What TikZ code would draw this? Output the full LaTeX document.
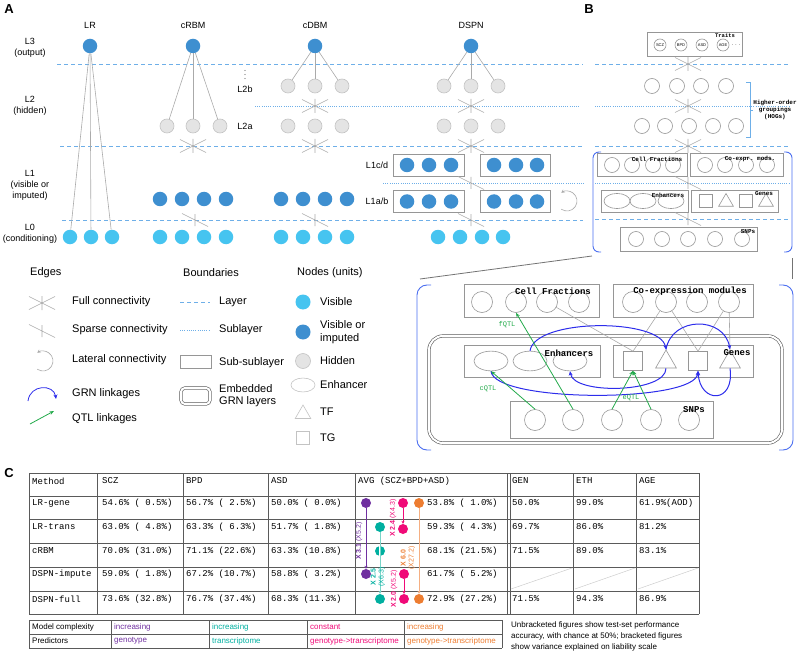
\documentclass[tikz,border=0pt]{standalone}
\usepackage{fontspec}
\setmainfont{Liberation Sans}
\setsansfont{Liberation Sans}
\setmonofont{Liberation Mono}
\usetikzlibrary{arrows.meta,positioning,shapes.geometric,calc}

\definecolor{visC}{RGB}{70,196,240}
\definecolor{impC}{RGB}{62,143,208}
\definecolor{hidF}{RGB}{228,228,228}
\definecolor{hidD}{RGB}{195,195,195}
\definecolor{edgeG}{RGB}{170,170,170}
\definecolor{boxG}{RGB}{150,150,150}
\definecolor{layerB}{RGB}{110,175,232}
\definecolor{grnB}{RGB}{45,45,235}
\definecolor{brkB}{RGB}{75,110,240}
\definecolor{qtlG}{RGB}{35,170,75}
\definecolor{tabG}{RGB}{90,90,90}
\definecolor{purC}{RGB}{112,48,160}
\definecolor{tealC}{RGB}{0,175,160}
\definecolor{tealL}{RGB}{120,212,200}
\definecolor{magC}{RGB}{240,10,120}
\definecolor{oraC}{RGB}{237,125,49}
\definecolor{oraL}{RGB}{245,175,130}

\tikzset{
  fullX/.pic={\draw[edge] (-13,-6.5) -- (13,6.5) (-13,6.5) -- (13,-6.5) (0,-7) -- (0,7);},
  sparseX/.pic={\draw[edge] (-13,-6.5) -- (13,6.5) (0,-6) -- (0,6);},
  lateral/.pic={\draw[edge, -{Stealth[length=3.5pt,width=3.5pt]}] (125:10) arc[start angle=125, end angle=-125, radius=10];}
}

\begin{document}
\begin{tikzpicture}[x=1pt, y=-1pt,
    vis/.style={circle, fill=visC, minimum size=14.5pt, inner sep=0pt},
    vimp/.style={circle, fill=impC, minimum size=14.5pt, inner sep=0pt},
    hid/.style={circle, draw=hidD, fill=hidF, line width=0.6pt, minimum size=14pt, inner sep=0pt},
    edge/.style={draw=edgeG, line width=0.6pt},
    layerLine/.style={draw=layerB, line width=0.7pt, dash pattern=on 4pt off 3pt},
    subLine/.style={draw=layerB, line width=0.6pt, dash pattern=on 1pt off 1.2pt},
    subBox/.style={draw=boxG, line width=0.7pt, rectangle, inner sep=0pt},
    bCirc/.style={circle, draw=boxG, line width=0.6pt, inner sep=0pt, minimum size=#1},
    bCirc/.default=15pt,
    bEll/.style={ellipse, draw=boxG, line width=0.6pt, inner sep=0pt, minimum width=#1, minimum height=0.58*#1},
    bEll/.default=26pt,
    bSq/.style={rectangle, draw=boxG, line width=0.6pt, inner sep=0pt, minimum size=#1},
    bSq/.default=13pt,
    bTri/.style={regular polygon, regular polygon sides=3, draw=boxG, line width=0.6pt, inner sep=0pt, minimum size=#1},
    bTri/.default=17pt,
    embBox/.style={draw=tabG, line width=0.6pt, double=white, double distance=2pt, inner sep=0pt},
    aLbl/.style={font=\fontsize{9}{11}\selectfont, align=center, inner sep=0pt},
    legLbl/.style={font=\fontsize{11}{12.5}\selectfont, anchor=west, align=left, inner sep=0pt},
    panelLbl/.style={font=\fontsize{13}{13}\selectfont\bfseries, inner sep=0pt},
    bTag/.style={font=\ttfamily\bfseries\fontsize{6}{7}\selectfont, inner sep=0pt, align=center},
    bigTag/.style={font=\ttfamily\bfseries\fontsize{9}{9}\selectfont, inner sep=0pt},
    qtlTag/.style={font=\ttfamily\fontsize{7}{7}\selectfont, text=qtlG, inner sep=0pt},
    tabTxt/.style={font=\ttfamily\fontsize{9}{9}\selectfont, anchor=west, inner sep=0pt},
    tabLine/.style={draw=tabG, line width=0.8pt},
    keyTxt/.style={font=\fontsize{8}{11}\selectfont, anchor=west, inner sep=0pt, align=left},
    dot/.style={circle, fill=#1, minimum size=10pt, inner sep=0pt},
    tinyDot/.style={circle, fill=black!55, minimum size=1.4pt, inner sep=0pt},
    dbLbl/.style={font=\fontsize{7}{8}\selectfont, rotate=90, inner sep=0pt, align=center},
    grn/.style={draw=grnB, line width=1pt, -{Stealth[length=4.5pt,width=4pt]}},
    qtl/.style={draw=qtlG, line width=0.8pt, -{Stealth[length=4.5pt,width=3.5pt]}},
    brk/.style={draw=brkB, line width=0.9pt, rounded corners=6pt},
    zoomLine/.style={draw=black!55, line width=0.8pt}
  ]
  \useasboundingbox (0,0) rectangle (800,655);

  % ---------- panel letters ----------
  \node[panelLbl] (pA) at (9,9) {A};
  \node[panelLbl] (pB) at (589,9) {B};
  \node[panelLbl] (pC) at (9,473) {C};

  % ---------- A: layer boundaries ----------
  \draw[layerLine] (57,64) -- (583,64);
  \draw[layerLine] (60,146) -- (583,146);
  \draw[layerLine] (62,220) -- (583,220);
  \draw[subLine] (255,106) -- (580,106);
  \draw[subLine] (383,183) -- (585,183);

  % row labels
  \node[aLbl] (rowL3) at (30,47.5) {L3\\(output)};
  \node[aLbl] (rowL2) at (30,105.5) {L2\\(hidden)};
  \node[aLbl] (rowL1) at (30,185.5) {L1\\(visible or\\imputed)};
  \node[aLbl] (rowL0) at (30,233.5) {L0\\(conditioning)};

  % column titles
  \node[aLbl] (tLR) at (90,25) {LR};
  \node[aLbl] (tRBM) at (193,25) {cRBM};
  \node[aLbl] (tDBM) at (315,25) {cDBM};
  \node[aLbl] (tDSPN) at (471,25) {DSPN};

  \foreach \y [count=\i] in {70.5,74.5,78.5} \node[tinyDot] (l2dot\i) at (245,\y) {};
  \node[aLbl] (l2b) at (245,89) {L2b};
  \node[aLbl] (l2a) at (245,126) {L2a};
  \node[aLbl] (l1cd) at (377,165) {L1c/d};
  \node[aLbl] (l1ab) at (377,201) {L1a/b};

  % ---------- LR ----------
  \node[vimp] (lrOut) at (90,46) {};
  \foreach \x [count=\i] in {70,91,112} {
    \node[vis] (lrIn\i) at (\x,237) {};
    \draw[edge] (lrOut) -- (lrIn\i);
  }

  % ---------- cRBM ----------
  \node[vimp] (rbmOut) at (193,46) {};
  \foreach \x [count=\i] in {167,193,220} {
    \node[hid] (rbmH\i) at (\x,126) {};
    \draw[edge] (rbmOut) -- (rbmH\i);
  }
  \pic at (193,146) {fullX};
  \foreach \x [count=\i] in {160,182,204,226} {
    \node[vimp] (rbmV\i) at (\x,199) {};
    \node[vis] (rbmC\i) at (\x,237) {};
  }
  \pic at (195,220) {sparseX};

  % ---------- cDBM ----------
  \node[vimp] (dbmOut) at (315,46) {};
  \foreach \x [count=\i] in {288,315,342} {
    \node[hid] (dbmB\i) at (\x,86) {};
    \node[hid] (dbmA\i) at (\x,126) {};
    \draw[edge] (dbmOut) -- (dbmB\i);
  }
  \pic at (315,106) {fullX};
  \pic at (315,146) {fullX};
  \foreach \x [count=\i] in {281,303,325,347} {
    \node[vimp] (dbmV\i) at (\x,199) {};
    \node[vis] (dbmC\i) at (\x,237) {};
  }
  \pic at (315,220) {sparseX};

  % ---------- DSPN ----------
  \node[vimp] (dsOut) at (471,46) {};
  \foreach \x [count=\i] in {444,471,498} {
    \node[hid] (dsB\i) at (\x,86) {};
    \node[hid] (dsA\i) at (\x,126) {};
    \draw[edge] (dsOut) -- (dsB\i);
  }
  \pic at (471,106) {fullX};
  \pic at (471,146) {fullX};
  \node[subBox, minimum width=71pt, minimum height=22pt] (dsCD1) at (428.5,165) {};
  \node[subBox, minimum width=70pt, minimum height=22pt] (dsCD2) at (515,165) {};
  \node[subBox, minimum width=71pt, minimum height=22pt] (dsAB1) at (428.5,201.5) {};
  \node[subBox, minimum width=70pt, minimum height=22pt] (dsAB2) at (515,201.5) {};
  \foreach \x [count=\i] in {407,429,451,494,516,537} {
    \node[vimp] (dsD\i) at (\x,165) {};
    \node[vimp] (dsV\i) at (\x,201.5) {};
  }
  \pic at (471,183) {sparseX};
  \pic at (471,220) {sparseX};
  \pic at (567,201) {lateral};
  \foreach \x [count=\i] in {438,460,482,503} {
    \node[vis] (dsC\i) at (\x,237) {};
  }

  % ---------- B: overview ----------
  \foreach \y in {64,146,219} \draw[layerLine] (595,\y) -- (790,\y);
  \foreach \y in {106,183} \draw[subLine] (595,\y) -- (790,\y);

  \node[subBox, minimum width=95pt, minimum height=24pt] (trBox) at (694.5,44) {};
  \foreach \t/\x in {SCZ/660,BPD/681,ASD/702,AGE/723} {
    \node[bCirc=12pt, font=\fontsize{4}{4}\selectfont] (tr\t) at (\x,45) {\t};
  }
  \node[inner sep=0pt, font=\fontsize{6}{6}\selectfont] (trMore) at (736,45) {$\cdots$};
  \node[bTag, font=\ttfamily\bfseries\fontsize{5.5}{6}\selectfont] (trTag) at (725,36) {Traits};
  \pic at (688,64) {fullX};
  \foreach \x [count=\i] in {652,677,701,726} \node[bCirc] (hogA\i) at (\x,86) {};
  \pic at (688,106) {fullX};
  \foreach \x [count=\i] in {642,665,689,713,736} \node[bCirc] (hogB\i) at (\x,126) {};
  \pic at (688,146) {fullX};
  \draw[draw=layerB, line width=0.7pt] (746,82) -- (750,82) -- (750,137) -- (746,137);
  \draw[draw=layerB, line width=0.7pt] (750,110) -- (753,110);
  \node[bTag] (hogTag) at (775,110) {Higher-order\\groupings\\(HOGs)};

  \node[subBox, minimum width=90pt, minimum height=23pt] (sCfBox) at (642,164.5) {};
  \node[subBox, minimum width=93pt, minimum height=23pt] (sCeBox) at (736.5,164.5) {};
  \foreach \x [count=\i] in {612,632,653,673} \node[bCirc] (sCf\i) at (\x,165) {};
  \foreach \x [count=\i] in {705,725,746,767} \node[bCirc] (sCe\i) at (\x,165) {};
  \node[bTag] (sCfTag) at (657,159) {Cell Fractions};
  \node[bTag] (sCeTag) at (750,159) {Co-expr. mods.};
  \pic at (688,183) {sparseX};

  \node[subBox, minimum width=87pt, minimum height=22pt] (sEnBox) at (644.5,201) {};
  \node[subBox, minimum width=87pt, minimum height=22pt] (sGnBox) at (734.5,201) {};
  \foreach \x [count=\i] in {617,643,671} \node[bEll] (sEn\i) at (\x,201) {};
  \node[bSq] (sGs1) at (706,201) {};
  \node[bTri] (sGt1) at (726,202) {};
  \node[bSq] (sGs2) at (746,201) {};
  \node[bTri] (sGt2) at (766,202) {};
  \node[bTag] (sEnTag) at (668,195) {Enhancers};
  \node[bTag] (sGnTag) at (764,194) {Genes};
  \pic at (688,219) {sparseX};

  \node[subBox, minimum width=137pt, minimum height=24pt] (sSnBox) at (688.5,239) {};
  \foreach \x [count=\i] in {636,662,688,715,742} \node[bCirc] (sSn\i) at (\x,239) {};
  \node[bTag] (sSnTag) at (748,232) {SNPs};

  \draw[brk] (601,152) -| (593,252) -- (601,252);
  \draw[brk] (784,152) -| (792,252) -- (784,252);

  % zoom connectors
  \coordinate (zoomSmallL) at (592,256);
  \coordinate (zoomBigL) at (420,279);
  \coordinate (zoomSmallR) at (792,258);
  \coordinate (zoomBigR) at (792,279);
  \draw[zoomLine] (zoomSmallL) -- (zoomBigL);
  \draw[zoomLine] (zoomSmallR) -- (zoomBigR);

  % ---------- B: expanded ----------
  \draw[brk, rounded corners=10pt] (431,285) -| (417,450) -- (431,450);
  \draw[brk, rounded corners=10pt] (779,285) -| (793,450) -- (779,450);

  \node[embBox, rounded corners=14pt, minimum width=353pt, minimum height=107pt] (grnLayer) at (605.5,389.5) {};
  \node[subBox, minimum width=135pt, minimum height=33pt] (cfBox) at (531.5,300.5) {};
  \node[subBox, minimum width=140pt, minimum height=33pt] (ceBox) at (683,300.5) {};
  \node[subBox, minimum width=136pt, minimum height=32pt] (enBox) at (532,361) {};
  \node[subBox, minimum width=140pt, minimum height=32pt] (gnBox) at (683,361) {};
  \node[subBox, minimum width=203pt, minimum height=37pt] (snBox) at (611.5,419.5) {};

  \foreach \x [count=\i] in {482,516,547,579} \node[bCirc=21pt] (cf\i) at (\x,302) {};
  \foreach \x [count=\i] in {633,666,697,729} \node[bCirc=21pt] (ce\i) at (\x,302) {};
  \foreach \x [count=\i] in {491,530,570} \node[bEll=34pt] (en\i) at (\x,361) {};
  \node[bSq=19pt] (gs1) at (633,361) {};
  \node[bTri=24pt] (gt1) at (666,362) {};
  \node[bSq=19pt] (gs2) at (698,361) {};
  \node[bTri=24pt] (gt2) at (730,362) {};
  \foreach \x [count=\i] in {535,573,612,651,689} \node[bCirc=21pt] (sn\i) at (\x,420) {};

  \node[bigTag] (cfTag) at (553,291) {Cell Fractions};
  \node[bigTag] (ceTag) at (690,291) {Co-expression modules};
  \node[bigTag] (enTag) at (569,353) {Enhancers};
  \node[bigTag] (gnTag) at (737,353) {Genes};
  \node[bigTag] (snTag) at (694,410) {SNPs};

  % module -> gene links
  \draw[edge] (cf3) -- (gs1.north);
  \draw[edge] (ce2) -- (gs1.north);
  \draw[edge] (ce2) -- (gs2.north);
  \draw[edge] (ce4) -- (gs2.north);
  \draw[edge] (ce4) -- (gt2.north);

  % GRN linkages
  \draw[grn] (en2.north) .. controls (535,318) and (660,318) .. (gt1.north);
  \draw[grn] (gt1.north) .. controls (672,316) and (724,316) .. (gt2.north);
  \draw[grn] (gt1.south) .. controls (666,393) and (574,395) .. (en3.south);
  \draw[grn] (en1.south) .. controls (494,403) and (695,403) .. (gs2.south);
  \draw[grn] (gt2.south) .. controls (735,404) and (700,404) .. (gs2.south);

  % QTL linkages
  \draw[qtl] (sn2.north) -- (cf2.south);
  \draw[qtl] (sn1.north) -- (en1.south);
  \draw[qtl] (sn3.north) -- (gs1.south);
  \draw[qtl] (sn4.north) -- (gs1.south);
  \node[qtlTag] (fqtl) at (507,325) {fQTL};
  \node[qtlTag] (cqtl) at (488,389) {cQTL};
  \node[qtlTag] (eqtl) at (631,398) {eQTL};

  % ---------- A: legend ----------
  \node[legLbl] (legEdges) at (30,273) {Edges};
  \pic at (42,303) {fullX};
  \node[legLbl] (legFull) at (72,302) {Full connectivity};
  \pic at (42,331) {sparseX};
  \node[legLbl] (legSparse) at (72,330) {Sparse connectivity};
  \pic at (43,361) {lateral};
  \node[legLbl] (legLat) at (72,360) {Lateral connectivity};
  \coordinate (grnKeyA) at (28,401);
  \coordinate (grnKeyB) at (56,399);
  \draw[grn, line width=0.8pt] (grnKeyA) .. controls (30,384) and (54,384) .. (grnKeyB);
  \node[legLbl] (legGrn) at (72,394) {GRN linkages};
  \coordinate (qtlKeyA) at (30,424);
  \coordinate (qtlKeyB) at (54,411);
  \draw[qtl] (qtlKeyA) -- (qtlKeyB);
  \node[legLbl] (legQtl) at (72,419) {QTL linkages};

  \node[legLbl] (legBound) at (183,273) {Boundaries};
  \coordinate (layKeyA) at (180,302);
  \coordinate (layKeyB) at (210,302);
  \draw[layerLine] (layKeyA) -- (layKeyB);
  \node[legLbl] (legLayer) at (219,302) {Layer};
  \coordinate (subKeyA) at (180,330);
  \coordinate (subKeyB) at (210,330);
  \draw[subLine] (subKeyA) -- (subKeyB);
  \node[legLbl] (legSub) at (219,330) {Sublayer};
  \node[subBox, minimum width=31pt, minimum height=13pt] (subsubKey) at (195.5,361.5) {};
  \node[legLbl] (legSubSub) at (219,363) {Sub-sublayer};
  \node[embBox, rounded corners=4pt, minimum width=29pt, minimum height=16pt] (embKey) at (195.5,396) {};
  \node[legLbl] (legEmb) at (219,395.5) {Embedded\\GRN layers};

  \node[legLbl] (legNodes) at (297,273) {Nodes (units)};
  \node[vis, minimum size=15pt] (visKey) at (303,302) {};
  \node[legLbl] (legVis) at (320,302) {Visible};
  \node[vimp, minimum size=15pt] (impKey) at (303,332) {};
  \node[legLbl] (legImp) at (320,332) {Visible or\\imputed};
  \node[hid, minimum size=15pt] (hidKey) at (303,361) {};
  \node[legLbl] (legHid) at (320,361) {Hidden};
  \node[bEll=24pt, draw=hidD] (enhKey) at (303,385) {};
  \node[legLbl] (legEnh) at (320,385) {Enhancer};
  \node[bTri=18pt, draw=hidD] (tfKey) at (303,414) {};
  \node[legLbl] (legTF) at (320,412) {TF};
  \node[bSq=13pt, draw=hidD] (tgKey) at (303,438) {};
  \node[legLbl] (legTG) at (320,438) {TG};

  % ---------- C: table ----------
  \foreach \y in {473,496,519,543,567,591,614} \draw[tabLine] (29,\y) -- (699,\y);
  \foreach \x in {29,97,183,268,355,573,636,699} \draw[tabLine] (\x,473) -- (\x,614);
  \draw[tabLine, line width=0.7pt] (507.5,473) -- (507.5,614);
  \draw[tabLine, line width=0.7pt] (510.5,473) -- (510.5,614);

  \foreach \txt/\x [count=\c] in {Method/32, SCZ/102, BPD/186, ASD/271, AVG (SCZ+BPD+ASD)/358, GEN/512, ETH/576, AGE/639}
    \node[tabTxt] (hd\c) at (\x,481) {\txt};

  \foreach \mth/\scz/\bpd/\asd/\avg/\gen/\eth/\age/\y [count=\r] in {
      LR-gene/54.6\% ( 0.5\%)/56.7\% ( 2.5\%)/50.0\% ( 0.0\%)/53.8\% ( 1.0\%)/50.0\%/99.0\%/61.9\%(AOD)/503,
      LR-trans/63.0\% ( 4.8\%)/63.3\% ( 6.3\%)/51.7\% ( 1.8\%)/59.3\% ( 4.3\%)/69.7\%/86.0\%/81.2\%/527,
      cRBM/70.0\% (31.0\%)/71.1\% (22.6\%)/63.3\% (10.8\%)/68.1\% (21.5\%)/71.5\%/89.0\%/83.1\%/551,
      DSPN-impute/59.0\% ( 1.8\%)/67.2\% (10.7\%)/58.8\% ( 3.2\%)/61.7\% ( 5.2\%)/{}/{}/{}/574,
      DSPN-full/73.6\% (32.8\%)/76.7\% (37.4\%)/68.3\% (11.3\%)/72.9\% (27.2\%)/71.5\%/94.3\%/86.9\%/599} {
    \node[tabTxt] (mth\r) at (32,\y) {\mth};
    \node[tabTxt] (scz\r) at (102,\y) {\scz};
    \node[tabTxt] (bpd\r) at (186,\y) {\bpd};
    \node[tabTxt] (asd\r) at (271,\y) {\asd};
    \node[tabTxt] (avg\r) at (427,\y) {\avg};
    \node[tabTxt] (gen\r) at (512,\y) {\gen};
    \node[tabTxt] (eth\r) at (576,\y) {\eth};
    \node[tabTxt] (age\r) at (639,\y) {\age};
  }
  % empty cells of DSPN-impute
  \foreach \xa/\xb in {511/572,575/635,638/698}
    \draw[draw=black!20, line width=0.5pt] (\xa,589) -- (\xb,568);

  % fold-change dumbbells
  \node[dot=purC] (purA) at (366,503) {};
  \node[dot=purC] (purB) at (366,574) {};
  \draw[purC, line width=0.8pt, -{Stealth[length=3pt,width=3pt]}] (purA) -- (purB);
  \node[dbLbl, text=purC] (purLbl) at (359,541) {\textbf{X 3.1} (X5.2)};

  \node[dot=tealC] (tealA) at (380,527) {};
  \node[dot=tealC] (tealB) at (380,551) {};
  \node[dot=tealC] (tealD) at (380,599) {};
  \draw[white, line width=2.5pt] (tealB.north) -- (tealB.south);
  \draw[tealL, line width=0.8pt, -{Stealth[length=3pt,width=3pt]}] (tealA) -- (tealD);
  \node[dbLbl, text=tealC] (tealLbl) at (378,577) {\textbf{X 2.5}\\(X6.3)};

  \node[dot=magC] (magA) at (403,503) {};
  \node[dot=magC] (magB) at (403,529) {};
  \draw[magC, line width=0.8pt, -{Stealth[length=3pt,width=3pt]}] (magA) -- (magB);
  \node[dbLbl, text=magC] (magLblA) at (393,518) {\textbf{X 2.4} (X4.3)};
  \node[dot=magC] (magC1) at (404,574) {};
  \node[dot=magC] (magD) at (404,599) {};
  \draw[magC, line width=0.8pt, -{Stealth[length=3pt,width=3pt]}] (magC1) -- (magD);
  \node[dbLbl, text=magC] (magLblB) at (394,589) {\textbf{X 2.0} (X5.2)};

  \node[dot=oraC] (oraA) at (419,503) {};
  \node[dot=oraC] (oraB) at (419,599) {};
  \draw[oraL, line width=0.8pt, -{Stealth[length=3pt,width=3pt]}] (oraA) -- (oraB);
  \node[dbLbl, text=oraC] (oraLbl) at (408,558) {\textbf{X 6.0}\\(X27.2)};

  % ---------- C: key ----------
  \foreach \y in {620,634,648} \draw[tabLine, line width=0.6pt] (29,\y) -- (502,\y);
  \foreach \x in {29,111,209,307,404,502} \draw[tabLine, line width=0.6pt] (\x,620) -- (\x,648);
  \node[keyTxt] (kRow1) at (32,627) {Model complexity};
  \node[keyTxt] (kRow2) at (32,641) {Predictors};
  \foreach \a/\b/\col/\x [count=\k] in {increasing/genotype/purC/114, increasing/transcriptome/tealC/212,
      constant/genotype->transcriptome/magC/310, increasing/genotype->transcriptome/oraC/407} {
    \node[keyTxt, text=\col] (kCx\k) at (\x,627) {\a};
    \node[keyTxt, text=\col] (kPr\k) at (\x,641) {\b};
  }
  \node[keyTxt, anchor=north west] (kNote) at (511,621) {Unbracketed figures show test-set performance\\accuracy, with chance at 50\%; bracketed figures\\show variance explained on liability scale};
\end{tikzpicture}
\end{document}
